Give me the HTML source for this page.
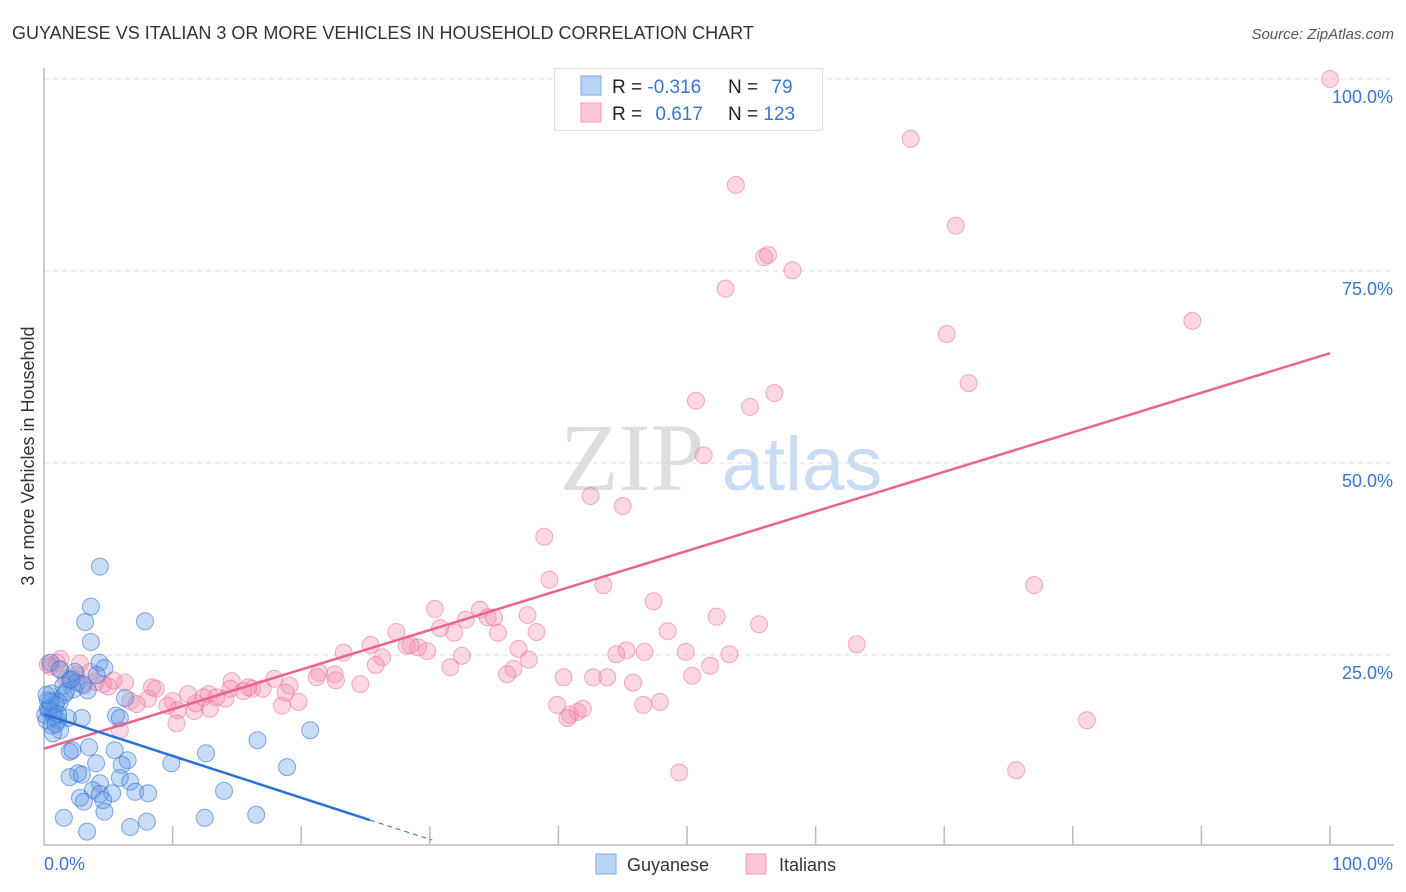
<!DOCTYPE html>
<html><head><meta charset="utf-8"><style>
body{margin:0;background:#fff;font-family:"Liberation Sans",sans-serif;}
svg{display:block}
</style></head><body>
<svg id="chart" width="1406" height="892">
<text x="12" y="39" font-size="18" fill="#333">GUYANESE VS ITALIAN 3 OR MORE VEHICLES IN HOUSEHOLD CORRELATION CHART</text>
<text x="1394" y="39" font-size="15" fill="#555" font-style="italic" text-anchor="end">Source: ZipAtlas.com</text>
<text transform="translate(34,456) rotate(-90)" font-size="18" fill="#333" text-anchor="middle">3 or more Vehicles in Household</text>
<g><text x="632" y="490" font-size="96" font-family="Liberation Serif,serif" fill="#ddd" text-anchor="middle">ZIP</text><text x="802" y="490" font-size="76" fill="#c9dcf2" text-anchor="middle">atlas</text></g>
<g id="grid"></g><g id="axes"></g><g id="pts"></g><g id="trend"></g>
<g>
<rect x="554.5" y="68.5" width="268" height="62" fill="#fff" stroke="#ddd"/>
<rect x="581" y="76" width="20" height="19" fill="#b9d3f5" stroke="#7aa8e6"/>
<rect x="581" y="103" width="20" height="19" fill="#fcc6d7" stroke="#f29ab8"/>
<text x="612" y="93" font-size="19" fill="#222">R = <tspan fill="#3b75d0">-0.316</tspan></text>
<text x="728" y="93" font-size="19" fill="#222">N = <tspan fill="#3b75d0" dx="8">79</tspan></text>
<text x="612" y="120" font-size="19" fill="#222">R = <tspan fill="#3b75d0" dx="8">0.617</tspan></text>
<text x="728" y="120" font-size="19" fill="#222">N = <tspan fill="#3b75d0">123</tspan></text>
</g>
<g>
<rect x="596" y="854" width="20" height="20" fill="#b9d3f5" stroke="#7aa8e6"/>
<text x="627" y="871" font-size="18" fill="#333">Guyanese</text>
<rect x="746" y="854" width="20" height="20" fill="#fcc6d7" stroke="#f29ab8"/>
<text x="779" y="871" font-size="18" fill="#333">Italians</text>
</g>
</svg>
<script>
const yTicks=[25,50,75,100];
const yTickLabels=["25.0%","50.0%","75.0%","100.0%"];
const xTickVals=[10,20,30,40,50,60,70,80,90,100];
const blueX=[4.35,3.65,7.85,3.2,3.65,0.5,1.25,2.4,4.3,4.7,4.1,2.0,2.55,3.4,0.6,1.55,0.3,0.9,0.5,0.7,0.1,1.85,2.95,1.1,1.25,6.3,5.6,5.9,2.0,2.2,3.5,5.5,6.5,6.05,4.05,12.6,9.9,16.6,20.7,2.65,2.0,2.95,5.9,4.35,6.7,3.8,4.35,5.3,7.1,8.1,2.8,3.1,4.6,14.0,18.9,1.55,4.7,16.5,12.5,8.0,6.7,3.35,0.3,0.8,1.0,0.2,1.5,2.3,0.6,1.2,0.4,0.9,1.7,2.1,0.5,1.1,3.0,0.2,0.7];
const blueY=[36.5,31.3,29.4,29.3,26.7,24.0,23.1,22.8,24.0,23.3,22.4,21.7,21.4,20.4,20.0,19.8,19.1,18.5,18.1,17.6,17.2,16.8,16.8,16.5,15.2,19.4,17.1,16.8,12.4,12.6,13.0,12.6,11.3,10.7,10.9,12.2,10.9,13.9,15.2,9.6,9.1,9.4,9.0,8.3,8.5,7.4,6.9,7.0,7.2,7.0,6.4,5.9,6.1,7.3,10.4,3.8,4.6,4.2,3.8,3.3,2.6,2.0,18.0,17.0,19.0,16.5,21.0,20.5,15.8,18.8,17.8,16.0,20.2,21.8,18.9,17.3,21.2,19.8,14.8];
const pinkX=[100,67.4,53.8,70.9,56.3,56.0,58.2,53.0,89.3,70.2,71.9,50.7,56.8,54.9,51.3,42.5,45.0,38.9,39.3,77.0,43.5,47.4,30.4,33.9,37.6,52.3,32.8,34.5,35.0,30.8,31.9,35.3,38.3,48.5,55.6,63.2,27.4,25.4,45.3,46.7,49.9,53.3,44.5,23.3,29.1,28.2,28.5,29.8,26.3,32.5,36.9,25.8,37.7,51.8,31.6,36.5,36.0,21.4,22.6,22.7,24.6,17.9,14.6,19.1,40.4,42.7,43.8,45.8,50.4,16.2,17.0,14.5,15.9,15.5,21.2,12.8,13.4,11.2,12.4,10.0,18.8,8.4,8.7,6.3,39.9,8.1,6.7,7.2,19.8,18.5,9.6,12.9,11.7,10.4,11.8,14.1,40.9,46.6,47.9,41.5,41.9,10.3,40.7,5.9,81.1,49.4,75.6,1.3,2.8,3.6,4.6,5.0,4.0,5.4,1.2,2.5,1.7,3.1,0.5,1.0,2.2,0.3];
const pinkY=[100,92.2,86.2,80.9,77.1,76.8,75.1,72.7,68.5,66.8,60.4,58.1,59.1,57.3,51.0,45.7,44.4,40.4,34.8,34.1,34.1,32.0,31.0,30.9,30.2,30.0,29.6,29.9,29.9,28.5,27.9,27.9,28.0,28.1,29.0,26.4,28.0,26.3,25.6,25.4,25.4,25.1,25.1,25.3,26.0,26.2,26.3,25.5,24.7,24.9,25.8,23.7,24.4,23.6,23.4,23.2,22.5,22.7,22.5,21.7,21.2,21.9,21.6,21.0,22.1,22.1,22.1,21.4,22.3,20.6,20.6,20.6,20.8,20.3,22.1,19.9,19.5,19.9,19.5,19.0,20.1,20.8,20.6,21.4,18.5,19.3,19.0,18.6,18.9,18.4,18.4,18.0,17.7,17.8,18.7,19.3,17.2,18.5,18.9,17.6,18.0,16.1,16.8,15.2,16.5,9.7,10.0,24.5,23.9,22.8,21.2,20.9,21.5,21.7,23.2,22.4,21.9,21.0,23.5,24.0,22.0,23.8];
const blueTrend=[17.3,3.5,0.9]; const blueTrendX=[0,25.35,30.2];
const pinkTrend=[12.8,64.3]; const pinkTrendX=[0,100];

const X0=44,X1=1330,Y0=847,Y100=79;
const sx=v=>X0+(X1-X0)*v/100, sy=v=>Y0-(Y0-Y100)*v/100;
const NS="http://www.w3.org/2000/svg";
function mk(tag,attrs,parent){const e=document.createElementNS(NS,tag);for(const k in attrs)e.setAttribute(k,attrs[k]);document.getElementById(parent).appendChild(e);return e;}
yTicks.forEach((v,i)=>{
  const l=mk('line',{x1:X0,x2:1394,y1:sy(v),y2:sy(v),stroke:'#ddd','stroke-dasharray':'5,4'},'grid');
  
  
  const t=mk('text',{x:1393,y:sy(v)+24,'font-size':18,fill:'#3b75d0','text-anchor':'end'},'grid');
  t.textContent=yTickLabels[i];
  
  
});
let a=mk('line',{x1:X0,x2:X0,y1:68,y2:845,stroke:'#bbb','stroke-width':1.5},'axes');


a=mk('line',{x1:X0,x2:1394,y1:845,y2:845,stroke:'#bbb','stroke-width':1.5},'axes');


xTickVals.forEach(v=>{const t=mk('line',{x1:sx(v),x2:sx(v),y1:826,y2:845,stroke:'#bbb','stroke-width':1.5},'axes');
  
  });
let t=mk('text',{x:44,y:870,'font-size':18,fill:'#3b75d0'},'axes');t.textContent='0.0%';


t=mk('text',{x:1393,y:870,'font-size':18,fill:'#3b75d0','text-anchor':'end'},'axes');t.textContent='100.0%';


pinkX.forEach((v,i)=>{const c=mk('circle',{cx:sx(v),cy:sy(pinkY[i]),r:8.5,fill:'rgba(244,140,175,0.35)',stroke:'rgba(236,110,150,0.55)','stroke-width':1},'pts');
  
  });
blueX.forEach((v,i)=>{const c=mk('circle',{cx:sx(v),cy:sy(blueY[i]),r:8.5,fill:'rgba(100,155,230,0.35)',stroke:'rgba(50,115,215,0.6)','stroke-width':1},'pts');
  
  });
let l=mk('line',{x1:sx(pinkTrendX[0]),y1:sy(pinkTrend[0]),x2:sx(pinkTrendX[1]),y2:sy(pinkTrend[1]),stroke:'#e8648f','stroke-width':2.5},'trend');


l=mk('line',{x1:sx(blueTrendX[0]),y1:sy(blueTrend[0]),x2:sx(blueTrendX[1]),y2:sy(blueTrend[1]),stroke:'#2c6fd6','stroke-width':2.5},'trend');


l=mk('line',{x1:sx(blueTrendX[1]),y1:sy(blueTrend[1]),x2:sx(blueTrendX[2]),y2:sy(blueTrend[2]),stroke:'#2c6fd6','stroke-width':1,'stroke-dasharray':'5,4'},'trend');


</script>
</body></html>
